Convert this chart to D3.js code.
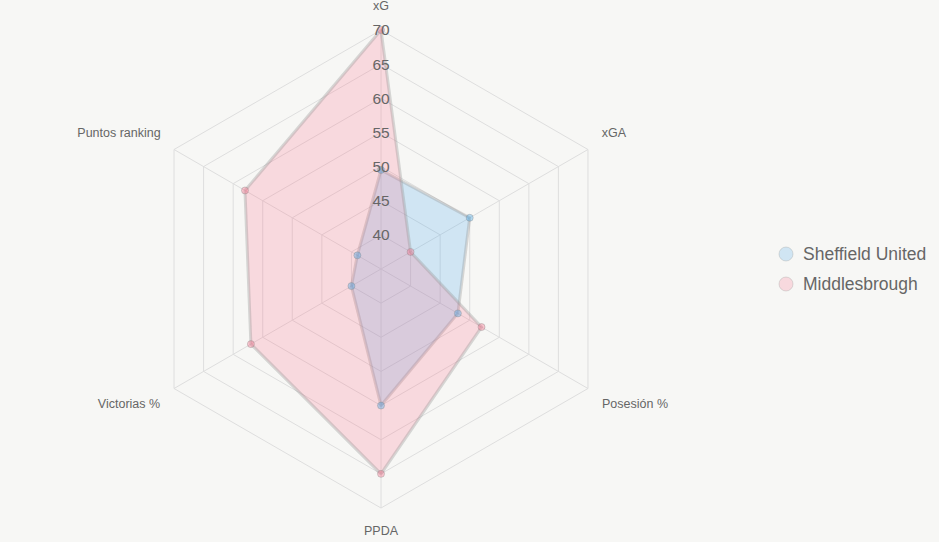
<!DOCTYPE html>
<html>
<head>
<meta charset="utf-8">
<script src="https://cdn.jsdelivr.net/npm/d3@7"></script>
<style>
  html, body { margin: 0; padding: 0; background: #f7f7f5; }
  svg { display: block; font-family: "Liberation Sans", Arial, sans-serif; }
</style>
</head>
<body>
<div id="chart"></div>
<script>
var axesLabels = ['xG', 'xGA', 'Posesión %', 'PPDA', 'Victorias %', 'Puntos ranking'];
var seriesNames = ['Sheffield United', 'Middlesbrough'];
var sheffieldValues = [49.5, 50, 48, 55, 40, 39];
var middlesbroughValues = [70, 40, 52, 65, 57, 58];
var tickValues = [40, 45, 50, 55, 60, 65, 70];

var fills = ['rgba(54,162,235,0.2)', 'rgba(255,99,132,0.2)'];
var pointFills = ['rgba(54,162,235,0.35)', 'rgba(255,99,132,0.35)'];

var width = 939, height = 542;
var cx = 381, cy = 269;
var radius = 239;

var svg = d3.select('#chart').append('svg')
    .attr('width', width)
    .attr('height', height);

var rScale = d3.scaleLinear()
  .domain([35, 70])
  .range([0, radius]);

var angle = d3.scalePoint()
  .domain(axesLabels)
  .range([0, 2 * Math.PI * (axesLabels.length - 1) / axesLabels.length]);

function pos(label, value) {
  var a = angle(label);
  var r = rScale(value);
  return [cx + r * Math.sin(a), cy - r * Math.cos(a)];
}

var grid = svg.append('g').attr('class', 'grid');

// hexagon rings
grid.selectAll('.ring')
    .data(tickValues)
  .enter().append('polygon')
    .attr('class', 'ring')
    .attr('fill', 'none')
    .attr('stroke', '#dedede')
    .attr('stroke-width', 1)
    .attr('points', function(t) {
      return axesLabels.map(function(l) { return pos(l, t).join(','); }).join(' ');
    });

// spokes
grid.selectAll('.spoke')
    .data(axesLabels)
  .enter().append('line')
    .attr('class', 'spoke')
    .attr('stroke', '#dedede')
    .attr('x1', cx)
    .attr('y1', cy)
    .attr('x2', function(l) { return pos(l, 70)[0]; })
    .attr('y2', function(l) { return pos(l, 70)[1]; });

var series = [sheffieldValues, middlesbroughValues];

var line = d3.line().curve(d3.curveLinearClosed);

var areas = svg.append('g').attr('class', 'areas');
series.forEach(function(vals, i) {
  var pts = axesLabels.map(function(l, j) { return pos(l, vals[j]); });
  areas.append('path')
      .attr('d', line(pts))
      .attr('fill', fills[i])
      .attr('stroke', 'rgba(150,150,150,0.35)')
      .attr('stroke-width', 3)
      .attr('stroke-linejoin', 'round');
});

series.forEach(function(vals, i) {
  areas.append('g').selectAll('circle')
      .data(vals)
    .enter().append('circle')
      .attr('r', 3.5)
      .attr('cx', function(d, j) { return pos(axesLabels[j], d)[0]; })
      .attr('cy', function(d, j) { return pos(axesLabels[j], d)[1]; })
      .attr('fill', pointFills[i])
      .attr('stroke', 'rgba(140,140,140,0.4)')
      .attr('stroke-width', 1);
});

// tick labels
svg.append('g').attr('class', 'ticks')
  .selectAll('text')
    .data(tickValues)
  .enter().append('text')
    .attr('x', cx)
    .attr('y', function(t) { return cy - rScale(t); })
    .attr('dy', '0.35em')
    .attr('text-anchor', 'middle')
    .attr('font-size', 15.5)
    .attr('fill', '#666')
    .text(function(t) { return t; });

// axis labels
var labelPos = {
  'xG': [381, 6, 'middle'],
  'xGA': [614, 133, 'middle'],
  'Posesión %': [635, 404, 'middle'],
  'PPDA': [381, 531, 'middle'],
  'Victorias %': [129, 404, 'middle'],
  'Puntos ranking': [119, 133, 'middle']
};
svg.append('g').attr('class', 'axis-labels')
  .selectAll('text')
    .data(axesLabels)
  .enter().append('text')
    .attr('x', function(l) { return labelPos[l][0]; })
    .attr('y', function(l) { return labelPos[l][1]; })
    .attr('dy', '0.35em')
    .attr('text-anchor', function(l) { return labelPos[l][2]; })
    .attr('font-size', 12.5)
    .attr('fill', '#666')
    .text(function(l) { return l; });

// legend
var legend = svg.append('g').attr('class', 'legend')
    .attr('transform', 'translate(786,254)');

var item = legend.selectAll('g')
    .data(seriesNames)
  .enter().append('g')
    .attr('transform', function(d, i) { return 'translate(0,' + (i * 30) + ')'; });

item.append('circle')
    .attr('r', 7)
    .attr('fill', function(d, i) { return fills[i]; })
    .attr('stroke', 'rgba(160,160,160,0.35)')
    .attr('stroke-width', 1);

item.append('text')
    .attr('x', 17)
    .attr('dy', '0.35em')
    .attr('font-size', 17.5)
    .attr('fill', '#666')
    .text(function(d) { return d; });
</script>
</body>
</html>
